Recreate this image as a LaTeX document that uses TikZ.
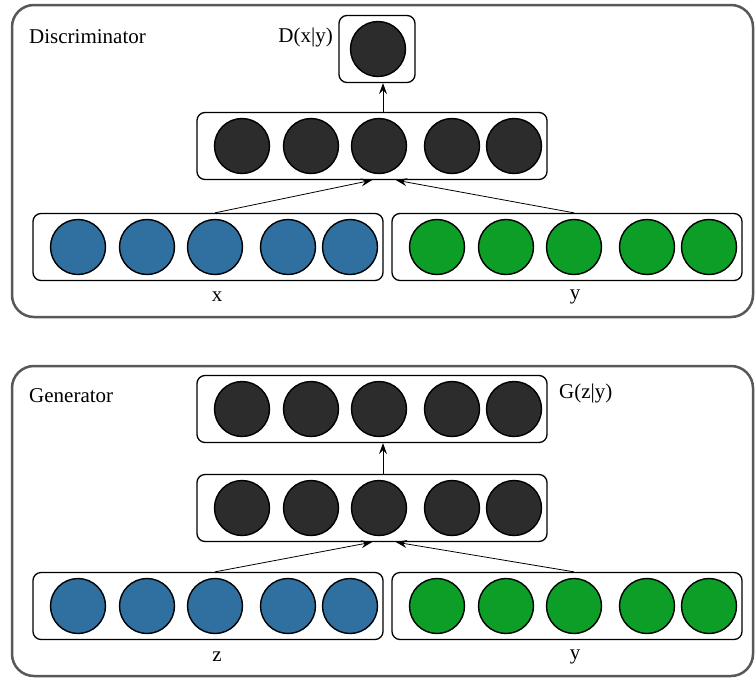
\documentclass[tikz,border=0pt]{standalone}
\usepackage{fontspec}
\setmainfont{Liberation Serif}
\usetikzlibrary{arrows.meta}

\definecolor{unitdark}{HTML}{2C2C2C}
\definecolor{unitblue}{HTML}{2F70A0}
\definecolor{unitgreen}{HTML}{0C9E26}
\definecolor{netgray}{HTML}{585858}

\tikzset{
  txt/.style={font=\fontsize{21}{25}\selectfont, inner sep=0pt},
  unit/.style={circle, draw, line width=1.4pt, minimum size=55pt, inner sep=0pt},
  layer/.style={draw, line width=1.3pt, rounded corners=8pt, minimum height=67pt, inner sep=0pt},
  wide/.style={layer, minimum width=350pt},
  net/.style={draw=netgray, line width=2.5pt, rounded corners=22pt},
  feed/.style={-{Stealth[length=11pt, width=8pt, inset=4pt]}, line width=0.8pt}
}

\begin{document}
\begin{tikzpicture}[x=1pt, y=-1pt]
\useasboundingbox (0,0) rectangle (755,678);

% outer frames
\draw[net] (12,5) rectangle (753,317);
\draw[net] (12,366) rectangle (753,676);
\node[txt, anchor=west] (dname) at (29,37) {Discriminator};
\node[txt, anchor=west] (gname) at (29,396) {Generator};

% discriminator
\node[layer, minimum width=76pt] (dout) at (377,49) {};
\node[unit, fill=unitdark] (dout1) at (378,49) {};
\node[txt, anchor=east] (dlabel) at (333,37) {D(x|y)};
\node[wide] (dhid) at (372,146) {};
\node[wide] (xin) at (208,247) {};
\node[wide] (yin) at (567,247) {};
\foreach \dx [count=\i] in {-130,-61,7,80,142} {
  \node[unit, fill=unitdark] (dhid\i) at (372+\dx,146) {};
  \node[unit, fill=unitblue] (xin\i) at (208+\dx,247) {};
  \node[unit, fill=unitgreen] (yin\i) at (567+\dx,247) {};
}
\node[txt] (xlabel) at (217,297) {x};
\node[txt] (ylabel) at (575,297) {y};
\draw[feed] (xin3 |- xin.north) -- (dhid.south);
\draw[feed] (yin3 |- yin.north) -- ([xshift=24pt]dhid.south);
\draw[feed] ([xshift=4pt]dhid3 |- dhid.north) -- ([xshift=4pt]dhid3 |- dout.south);

% generator
\node[wide] (gout) at (372,409) {};
\node[wide] (ghid) at (372,508) {};
\node[wide] (zin) at (208,606) {};
\node[wide] (yyin) at (567,606) {};
\foreach \dx [count=\i] in {-130,-61,7,80,142} {
  \node[unit, fill=unitdark] (gout\i) at (372+\dx,409) {};
  \node[unit, fill=unitdark] (ghid\i) at (372+\dx,508) {};
  \node[unit, fill=unitblue] (zin\i) at (208+\dx,606) {};
  \node[unit, fill=unitgreen] (yyin\i) at (567+\dx,606) {};
}
\node[txt, anchor=west] (glabel) at (559,393) {G(z|y)};
\node[txt] (zlabel) at (217,657) {z};
\node[txt] (yylabel) at (575,657) {y};
\draw[feed] (zin3 |- zin.north) -- (ghid.south);
\draw[feed] (yyin3 |- yyin.north) -- ([xshift=24pt]ghid.south);
\draw[feed] ([xshift=4pt]ghid3 |- ghid.north) -- ([xshift=4pt]ghid3 |- gout.south);

\end{tikzpicture}
\end{document}
